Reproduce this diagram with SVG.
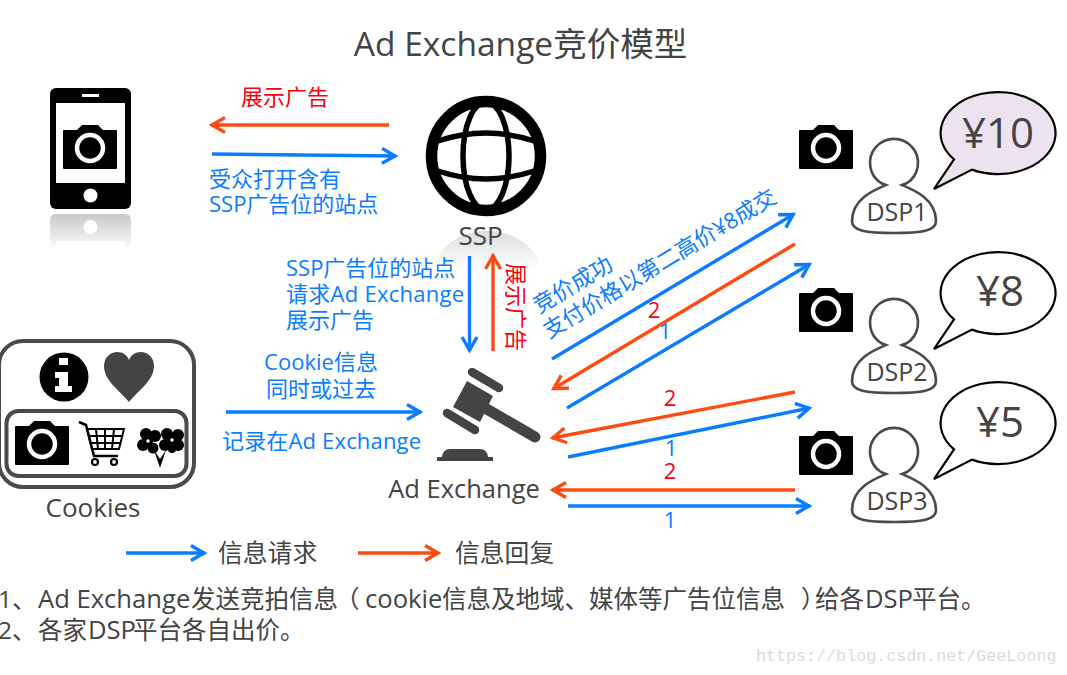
<svg xmlns="http://www.w3.org/2000/svg" xmlns:xlink="http://www.w3.org/1999/xlink" width="1067" height="675" viewBox="0 0 1067 675">
<style>
text{font-family:"Open Sans","Noto Sans CJK SC",sans-serif;fill:#444}
.b{fill:#0a7cff;font-size:22px}
.r{fill:#f5000f;font-size:22px}
.n{font-size:22px}
.m{text-anchor:middle}
.la{font-size:25.600px}
.lb{stroke:#0a7cff;stroke-width:3.4;fill:none;marker-end:url(#ab)}
.lo{stroke:#ff4a12;stroke-width:3.4;fill:none;marker-end:url(#ao)}
.pe{fill:#fff;stroke:#4a4a4a;stroke-width:2.6}
.bu{fill:#fff;stroke:#000;stroke-width:2.2;stroke-linejoin:miter}
</style>
<defs>
<marker id="ab" markerUnits="userSpaceOnUse" markerWidth="30" markerHeight="30" refX="16" refY="15" orient="auto" overflow="visible"><path d="M2,7.500 L15,15 L2,22.500" fill="none" stroke="#0a7cff" stroke-width="3.400"/></marker>
<marker id="ao" markerUnits="userSpaceOnUse" markerWidth="30" markerHeight="30" refX="16" refY="15" orient="auto" overflow="visible"><path d="M2,7.500 L15,15 L2,22.500" fill="none" stroke="#ff4a12" stroke-width="3.400"/></marker>
<g id="cam"><path d="M0,6 Q0,5 1,5 H14 L19,0 H35 L40,5 H53 Q54,5 54,6 V43 Q54,44 53,44 H1 Q0,44 0,43 Z" fill="#000"/><circle cx="27" cy="23" r="13" fill="none" stroke="#fff" stroke-width="4.500"/></g>
<path id="per" class="pe" d="M-8,22 C-20,27 -42,36 -42,58 C-42,68 -28,70 0,70 C28,70 42,68 42,58 C42,36 20,27 8,22 L13,20 A24,24 0 1 0 -13,20 Z"/>
<path id="bub" d="M954,159.400 A57.500,41 0 1 1 972,169.600 L934,189 Z"/>
<linearGradient id="rf" x1="0" y1="0" x2="0" y2="1"><stop offset="0" stop-color="#c8c8c8"/><stop offset="1" stop-color="#fff"/></linearGradient>
<linearGradient id="rg" x1="0" y1="0" x2="0" y2="1"><stop offset="0" stop-color="#dcdcdc"/><stop offset="1" stop-color="#fff"/></linearGradient>
</defs>
<rect width="1067" height="675" fill="#fff"/>
<text id="title" x="520.500" y="56" class="m" font-size="33.500">Ad Exchange竞价模型</text>

<g id="phone">
<rect x="50" y="88" width="81" height="121" rx="6" fill="#000"/>
<rect x="56" y="103" width="69" height="80" fill="#fff"/>
<rect x="82" y="94" width="17" height="3" fill="#fff"/>
<circle cx="90.500" cy="195.500" r="7" fill="#fff"/>
<use xlink:href="#cam" href="#cam" x="63" y="125"/>
<path d="M56,214 H125 Q131,214 131,220 V250 H50 V220 Q50,214 56,214 Z" fill="url(#rf)"/>
<circle cx="90.500" cy="227" r="7" fill="#fff"/>
<rect x="56" y="241" width="69" height="9" fill="#fff"/>
</g>

<g id="ssp">
<path d="M433,268 A55,46 0 0 1 541,268 Z" fill="url(#rg)"/>
<g fill="none" stroke="#000">
<circle cx="486" cy="156" r="54.500" stroke-width="11.500"/>
<ellipse cx="486" cy="156" rx="23" ry="54" stroke-width="5.500"/>
<path d="M438,141 Q486,125 534,141 M438,171 Q486,187 534,171" stroke-width="5.500"/>
</g>
<text x="480.500" y="245" class="m" font-size="26">SSP</text>
</g>

<g id="cookies">
<rect x="-1" y="341" width="195" height="146" rx="24" fill="#fff" stroke="#4a4a4a" stroke-width="4"/>
<rect x="6.500" y="411" width="180" height="65" rx="12" fill="#fff" stroke="#4a4a4a" stroke-width="4"/>
<circle cx="64" cy="377" r="24.500" fill="#000"/>
<path d="M59,358 H68 V365 H59 Z M55,372 H68 V386 H72 V392 H55 V386 H59 V378 H55 Z" fill="#fff"/>
<path d="M129,402 C118,389 104,380 104,366 C104,357 111,352 117,352 C123,352 127,355 129,360 C131,355 135,352 141,352 C147,352 154,357 154,366 C154,380 140,389 129,402 Z" fill="#444"/>
<use xlink:href="#cam" href="#cam" x="15" y="421"/>
<g fill="none" stroke="#000">
<path d="M79,422 L86,425 L94,456 H118" stroke-width="2.500"/>
<path d="M87,429 H124 L119,449 H92 Z M96,429 L98,449 M105,429 V449 M114,429 L112,449 M89,436 H122 M90,443 H121" stroke-width="2"/>
<circle cx="95" cy="462" r="3" stroke-width="2.200"/><circle cx="114" cy="462" r="3" stroke-width="2.200"/>
</g>
<g fill="#000">
<circle cx="146" cy="434" r="6"/><circle cx="155" cy="436" r="6"/><circle cx="143" cy="445" r="6"/><circle cx="153" cy="448" r="5.500"/><circle cx="148" cy="441" r="5"/>
<circle cx="167" cy="434" r="6"/><circle cx="178" cy="435" r="6"/><circle cx="165" cy="445" r="6"/><circle cx="178" cy="445" r="6"/><circle cx="172" cy="449" r="4"/><circle cx="172" cy="440" r="5"/>
<path d="M160,468 L154,450 L160,459 L166,450 Z"/>
</g>
<circle cx="148" cy="441" r="1.800" fill="#fff"/><circle cx="172" cy="440" r="1.800" fill="#fff"/>
<text x="93" y="517" class="m" font-size="26">Cookies</text>
</g>

<g id="adexchange">
<path d="M467,381 L493,396 L480,422 L453,407 Z" fill="#444"/>
<g stroke="#444" stroke-linecap="round" fill="none">
<path d="M472,372 L499,388 M447,413 L475,430" stroke-width="8.500"/>
<path d="M485,408 L535,437" stroke-width="11"/>
</g>
<path d="M437,461 V457 H442 Q443,449 450,449 H480 Q487,449 488,457 H493 V461 Z" fill="#444"/>
<text x="464" y="498" class="m" font-size="25.500">Ad Exchange</text>
</g>

<g id="dsp1">
<use xlink:href="#cam" href="#cam" x="799" y="125"/>
<use xlink:href="#per" href="#per" x="894" y="163"/>
<text x="897" y="220.500" class="m" font-size="25">DSP1</text>
<use xlink:href="#bub" href="#bub" class="bu" style="fill:#ece2f0"/>
<text x="998" y="148" class="m" font-size="42">¥10</text>
</g>
<g id="dsp2">
<use xlink:href="#cam" href="#cam" x="799" y="288"/>
<use xlink:href="#per" href="#per" x="894" y="323"/>
<text x="897" y="380.500" class="m" font-size="25">DSP2</text>
<use xlink:href="#bub" href="#bub" class="bu" y="160"/>
<text x="1000" y="306" class="m" font-size="42">¥8</text>
</g>
<g id="dsp3">
<use xlink:href="#cam" href="#cam" x="799" y="431"/>
<use xlink:href="#per" href="#per" x="894" y="452"/>
<text x="897" y="510" class="m" font-size="25">DSP3</text>
<use xlink:href="#bub" href="#bub" class="bu" y="290"/>
<text x="1000" y="437" class="m" font-size="42">¥5</text>
</g>

<g id="connectors">
<path class="lo" d="M389,125 H211"/>
<path class="lb" d="M212,154 L396,156"/>
<path class="lb" d="M226,412 H421"/>
<path class="lb" d="M469.500,256 V351"/>
<path class="lo" d="M493,351 V255"/>
<path class="lb" d="M552,359 L794,214"/>
<path class="lo" d="M795,244 L553,389"/>
<path class="lb" d="M567,408 L810,264"/>
<path class="lo" d="M795,392 L552,438"/>
<path class="lb" d="M568,457 L810,408"/>
<path class="lo" d="M795,490 H552"/>
<path class="lb" d="M568,506 H810"/>
<path class="lb" d="M126,553 H205"/>
<path class="lo" d="M358,553 H439"/>
</g>

<g id="labels">
<text class="r" x="241" y="105">展示广告</text>
<text class="b" x="209" y="187">受众打开含有</text>
<text class="b" x="209" y="212">SSP广告位的站点</text>
<text class="b" x="286" y="276">SSP广告位的站点</text>
<text class="b" x="286" y="302" textLength="178">请求Ad Exchange</text>
<text class="b" x="286" y="328">展示广告</text>
<text class="b m" x="321" y="370">Cookie信息</text>
<text class="b m" x="321" y="397">同时或过去</text>
<text class="b" x="222" y="449" textLength="199">记录在Ad Exchange</text>
<text class="r" transform="translate(508,263) rotate(90)">展示广告</text>
<text class="b" transform="translate(539,314) rotate(-31)">竞价成功</text>
<text class="b" transform="translate(549,339) rotate(-31)">支付价格以第二高价¥8成交</text>
<text class="r n m" x="654" y="318">2</text>
<text class="b n m" x="665" y="339">1</text>
<text class="r n m" x="670" y="406">2</text>
<text class="b n m" x="671" y="456">1</text>
<text class="r n m" x="670" y="479">2</text>
<text class="b n m" x="670" y="528">1</text>
<text x="218" y="562" font-size="24.800">信息请求</text>
<text x="455" y="562" font-size="24.800">信息回复</text>
<text y="608" font-size="24.500"><tspan x="-2">1、</tspan><tspan x="38" class="la">Ad Exchange</tspan><tspan x="191">发送竞拍信息</tspan><tspan x="335">（</tspan><tspan x="365" class="la">cookie</tspan><tspan x="442">信息及地域、媒体等广告位信息</tspan><tspan x="801">）</tspan><tspan x="815">给各</tspan><tspan x="865" class="la">DSP</tspan><tspan x="912">平台。</tspan></text>
<text y="639" font-size="24.500"><tspan x="-2">2、</tspan><tspan x="38">各家</tspan><tspan x="88" class="la">DSP</tspan><tspan x="133">平台各自出价。</tspan></text>
<text x="756" y="661" style="font-family:'Liberation Mono',monospace;fill:#dcdcd4" font-size="16.700">https://blog.csdn.net/GeeLoong</text>
</g>
</svg>
